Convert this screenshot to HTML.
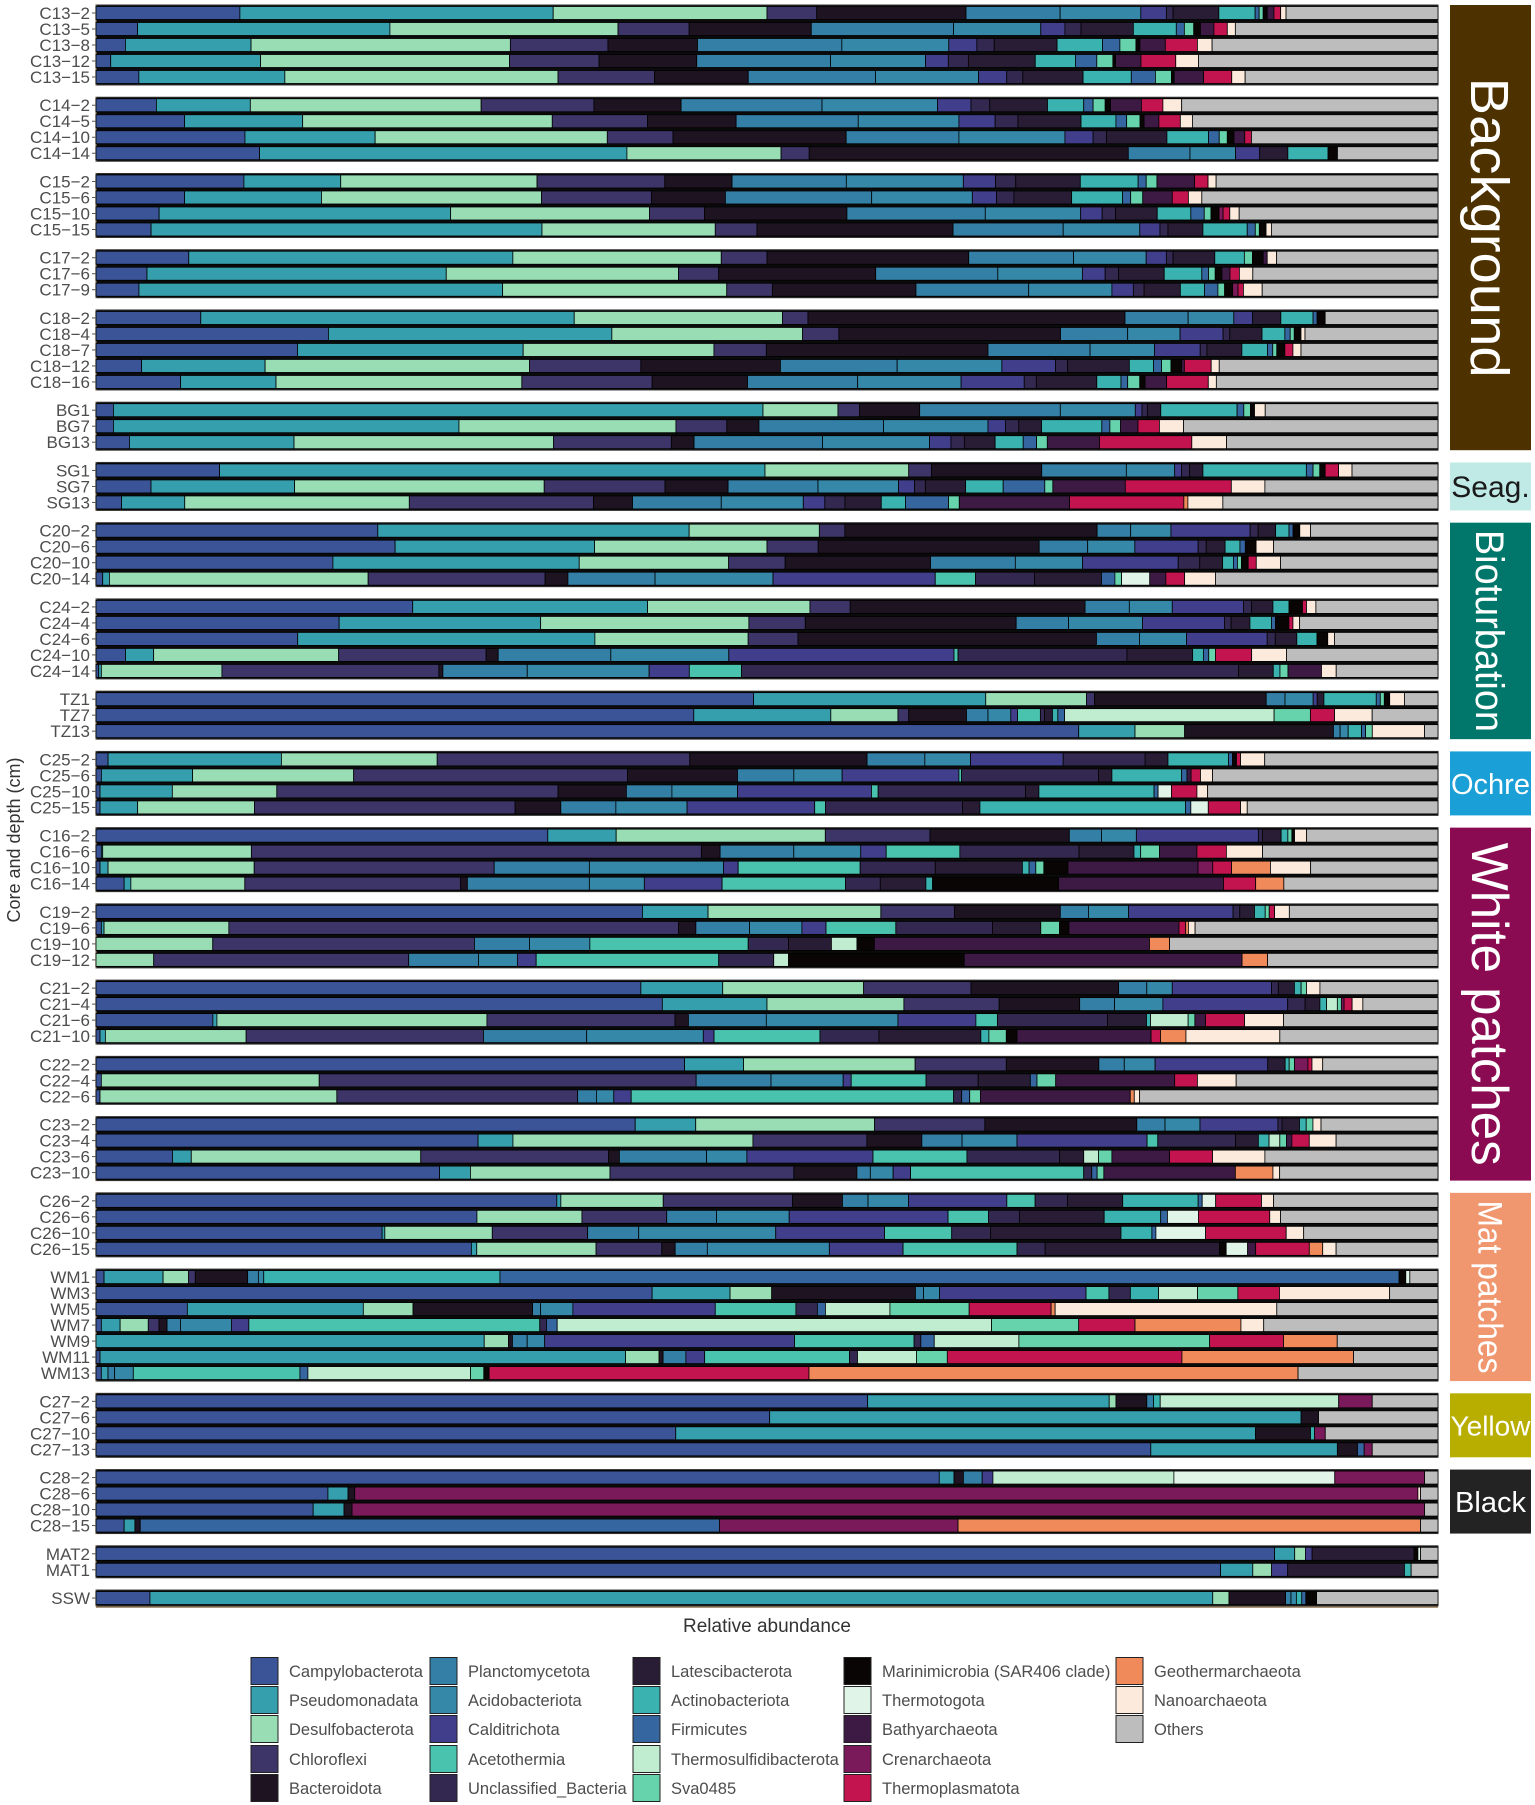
<!DOCTYPE html>
<html><head><meta charset="utf-8"><style>
html,body{margin:0;padding:0;background:#fff;}
svg{display:block;font-family:"Liberation Sans",sans-serif;}
</style></head><body>
<svg id="chart" width="1535" height="1805" viewBox="0 0 1535 1805" xmlns="http://www.w3.org/2000/svg"></svg>
<script>
const taxa=["Campylobacterota","Pseudomonadata","Desulfobacterota","Chloroflexi","Bacteroidota","Planctomycetota","Acidobacteriota","Calditrichota","Acetothermia","Unclassified_Bacteria","Latescibacterota","Actinobacteriota","Firmicutes","Thermosulfidibacterota","Sva0485","Marinimicrobia (SAR406 clade)","Thermotogota","Bathyarchaeota","Crenarchaeota","Thermoplasmatota","Geothermarchaeota","Nanoarchaeota","Others"];
const colors=["#3b5498","#359fae","#98ddb4","#3d3468","#1e1320","#347fa5","#3588a8","#413f8c","#49c2ae","#33284f","#291d35","#3ab2b0","#3566a0","#c0ecd0","#66d3ac","#0a0505","#e0f5e8","#3d1a44","#7a1a5a","#c4144f","#f08a5a","#fcebdc","#bdbdbd"];
const samples=["C13−2","C13−5","C13−8","C13−12","C13−15","C14−2","C14−5","C14−10","C14−14","C15−2","C15−6","C15−10","C15−15","C17−2","C17−6","C17−9","C18−2","C18−4","C18−7","C18−12","C18−16","BG1","BG7","BG13","SG1","SG7","SG13","C20−2","C20−6","C20−10","C20−14","C24−2","C24−4","C24−6","C24−10","C24−14","TZ1","TZ7","TZ13","C25−2","C25−6","C25−10","C25−15","C16−2","C16−6","C16−10","C16−14","C19−2","C19−6","C19−10","C19−12","C21−2","C21−4","C21−6","C21−10","C22−2","C22−4","C22−6","C23−2","C23−4","C23−6","C23−10","C26−2","C26−6","C26−10","C26−15","WM1","WM3","WM5","WM7","WM9","WM11","WM13","C27−2","C27−6","C27−10","C27−13","C28−2","C28−6","C28−10","C28−15","MAT2","MAT1","SSW"];
const panelSizes=[5,4,4,3,5,3,3,4,5,3,4,4,4,4,3,4,4,7,4,4,2,1];
const values=[
[10.7,23.3,15.9,3.7,11.1,7.0,6.0,1.9,0,0.5,3.4,2.7,0.3,0,0.3,0.3,0,0.5,0,0.5,0,0.4,11.3],
[3.1,18.8,17.0,5.3,9.1,10.6,6.5,1.8,0,1.2,3.9,3.2,0.6,0,0.7,0.5,0,1.0,0,1.0,0,0.6,15.1],
[2.2,9.4,19.4,7.3,6.7,10.8,8.0,2.1,0,1.3,4.7,3.4,1.3,0,1.2,0.3,0,1.9,0,2.4,0,1.1,16.9],
[1.1,11.2,18.6,6.7,7.3,10.0,7.1,1.7,0,1.5,5.0,3.0,1.6,0,1.2,0.2,0,1.9,0,2.6,0,1.7,17.9],
[3.2,10.9,20.4,7.2,7.0,9.5,7.7,2.1,0,1.2,4.5,3.6,1.8,0,1.2,0.2,0,2.2,0,2.1,0,1.0,14.4],
[4.5,7.0,17.2,8.4,6.5,10.5,8.6,2.5,0,1.4,4.3,2.7,0.7,0,0.9,0.4,0,2.3,0,1.6,0,1.4,19.1],
[6.6,8.8,18.6,7.1,6.6,9.1,7.5,2.7,0,1.7,4.7,2.6,0.8,0,1.0,0.3,0,1.1,0,1.6,0,0.9,18.3],
[11.1,9.7,17.3,4.9,12.9,8.4,7.9,2.1,0,1.0,4.5,3.1,0.8,0,0.6,0.5,0,0.8,0,0.5,0,0,13.9],
[12.2,27.4,11.5,2.1,23.8,4.6,3.4,1.8,0,0,2.1,3.0,0,0,0,0.7,0,0,0,0,0,0,7.5],
[11.0,7.2,14.6,9.5,5.0,8.5,8.7,2.4,0,1.5,4.8,4.3,0.6,0,0.8,0,0,2.8,0,1.0,0,0.6,16.5],
[6.6,10.2,16.4,8.2,5.5,10.9,7.5,1.8,0,1.3,4.3,3.8,0.6,0,0.9,0,0,2.2,0,1.2,0,1.0,17.6],
[4.7,21.7,14.8,4.1,10.6,10.3,7.1,1.6,0,1.0,3.1,2.5,1.0,0,0.5,0.6,0,0,0.3,0.5,0,0.7,14.8],
[4.1,29.1,12.9,3.1,14.6,8.2,5.7,1.5,0,0.6,2.6,3.3,0.6,0,0.3,0.5,0,0,0,0,0,0.4,12.4],
[6.9,24.1,15.5,3.4,15.0,7.8,5.4,1.5,0,0.5,3.1,2.2,0,0,0.6,0.8,0,0.3,0,0,0,0.7,12.0],
[3.8,22.3,17.3,3.0,11.7,9.1,6.3,1.7,0,1.0,3.4,2.8,0.5,0,0.5,0.5,0,0.6,0,0.7,0,1.0,13.8],
[3.2,27.1,16.7,3.4,10.7,8.4,6.2,1.6,0,0.8,2.7,1.8,1.0,0,0.5,0.6,0,0,0.4,0.4,0,1.4,13.1],
[7.8,27.8,15.5,1.9,23.6,4.7,3.4,1.4,0,0,2.1,2.4,0.3,0,0,0.6,0,0,0,0,0,0,8.4],
[17.3,21.1,14.2,2.7,16.5,5.0,3.9,3.2,0,0.5,2.4,1.7,0.4,0,0.3,0.5,0,0,0,0,0,0.3,9.9],
[15.0,16.8,14.2,3.9,16.5,7.6,4.8,3.4,0,0.5,2.6,1.9,0.4,0,0.3,0.6,0,0,0,0.6,0,0.6,10.2],
[3.4,9.2,19.7,8.3,10.4,8.7,7.8,4.0,0,0.9,4.6,1.8,0.6,0,0.7,0.8,0,0.2,0,2.0,0,0.6,16.3],
[6.3,7.1,18.3,9.7,7.1,8.2,7.7,4.7,0,0.9,4.5,1.8,0.5,0,0.9,0.4,0,1.6,0,3.1,0,0.6,16.5],
[1.3,48.5,5.6,1.6,4.5,10.5,5.6,0.5,0,0.4,1.0,5.7,0.5,0,0.5,0.3,0,0,0,0,0,0.8,12.9],
[1.3,25.8,16.2,3.8,2.4,9.3,7.8,1.3,0,1.0,1.7,4.5,0.6,0,0.8,0,0,1.3,0,1.6,0,1.8,19.0],
[2.5,12.3,19.4,8.8,1.7,9.6,8.0,1.6,0,1.0,2.3,2.1,1.0,0,0.8,0,0,3.9,0,6.9,0,2.6,15.8],
[9.2,40.6,10.7,1.7,8.2,6.3,3.6,0.5,0,0.6,1.0,7.7,0.5,0,0.5,0.4,0,0,0,1.0,0,1.0,6.4],
[4.1,10.7,18.6,9.0,4.7,6.7,6.0,1.2,0,0.8,3.0,2.8,3.1,0,0.6,0,0,5.4,0,7.9,0,2.5,12.9],
[1.9,4.7,16.7,13.7,2.9,6.6,6.1,1.6,0,1.5,2.7,1.8,3.2,0,0.8,0,0,8.2,0,8.5,0.3,2.6,16.0],
[21.0,23.2,9.7,1.9,18.8,2.5,3.0,5.9,0,0.6,1.3,1.0,0.3,0,0,0.5,0,0,0,0,0,0.8,9.5],
[22.2,14.8,12.8,3.8,16.4,3.6,3.5,4.7,0,0.6,1.4,1.1,0.4,0,0,0.8,0,0,0,0,0,1.3,12.2],
[17.6,18.3,11.1,4.2,10.8,6.3,5.0,7.1,0,1.6,1.7,0.8,0.3,0,0.3,0.5,0,0,0,0.6,0,1.8,11.7],
[0.5,0.5,19.3,13.2,1.7,6.5,8.8,12.1,3.0,4.4,5.0,0,1.0,0,0.5,0,2.1,1.2,0,1.4,0,2.3,16.6],
[23.6,17.5,12.1,3.0,17.5,3.3,3.2,5.3,0,0.6,1.6,1.2,0,0,0,1.0,0,0,0,0.3,0,0.7,9.1],
[18.1,15.0,15.5,4.2,15.7,3.9,5.5,6.1,0,0.5,1.4,1.6,0.3,0,0,1.0,0,0,0,0.3,0,0.5,10.3],
[15.0,22.1,11.4,3.7,22.2,3.2,3.5,6.0,0,0.6,1.6,1.5,0,0,0,0.8,0,0,0,0,0,0.5,7.7],
[2.2,2.1,13.8,11.0,0.9,8.4,8.8,16.8,0.3,12.6,4.9,0.8,0.4,0,0.5,0,0,0,0,2.7,0,2.6,11.3],
[0.2,0.2,9.0,16.2,0.3,6.3,9.1,3.0,3.9,37.1,2.6,0.5,0,0,0.6,0,0,2.5,0,0,0,1.1,7.6],
[49.0,17.3,7.5,0.6,12.8,1.4,2.1,0.3,0,0,0.5,3.9,0.3,0,0.3,0.4,0,0,0,0,0,1.1,2.5],
[44.5,10.2,5.0,0.8,4.3,1.6,1.7,0.5,1.7,0.3,0.6,0.4,0.5,15.6,2.7,0,0,0,0,1.8,0,2.8,4.9],
[73.3,4.2,3.7,0,11.1,0.5,0.6,0,0,0,0,1.0,0.3,0,0.5,0,0,0,0,0,0,3.9,1.0],
[0.9,12.9,11.6,18.8,13.2,4.3,3.4,6.9,0,6.1,1.7,4.5,0.3,0,0,0.3,0,0,0,0.3,0,1.8,12.9],
[0.4,6.8,12.0,20.4,8.2,4.2,3.6,8.7,0.2,10.2,1.0,5.2,0.4,0,0,0,0,0.3,0,0.7,0,0.9,16.8],
[0.3,5.4,7.8,21.0,5.1,3.4,4.9,10.0,0.5,11.0,1.0,8.6,0.3,0,0,0,1.0,0,0,1.9,0,0.8,17.2],
[0.3,2.8,8.7,19.4,3.4,4.1,5.3,9.5,0.8,10.2,1.3,15.3,0.4,0,0,0,1.3,0,0,2.4,0,0.5,14.2],
[33.7,5.1,15.6,7.8,10.4,2.4,2.6,9.1,0,0.3,1.4,0.5,0,0,0.3,0.2,0,0,0,0,0,0.9,9.8],
[0.4,0.1,11.1,33.6,1.4,5.5,5.0,1.9,5.5,8.9,4.1,0.5,0,0,1.4,0,0,2.8,0,2.2,0,2.7,13.1],
[0.3,0.6,10.9,17.9,0,7.1,10.0,1.1,9.1,5.6,6.5,0.5,0.5,0,0.6,1.8,0,9.7,1.1,1.4,2.9,3.0,9.5],
[2.1,0.5,8.5,16.1,0.5,9.1,4.1,5.8,9.2,2.6,3.4,0.5,0,0,0,9.4,0,12.3,0,2.4,2.1,0,11.5],
[40.8,4.9,12.9,5.5,7.9,2.1,3.0,7.8,0,0.5,1.1,0.8,0,0,0.3,0,0,0,0,0.4,0,1.1,11.1],
[0.4,0.2,9.3,33.5,1.3,4.0,3.9,1.8,5.2,7.2,3.6,0,0,0,1.4,0.7,0,8.2,0,0.5,0.2,0.5,18.1],
[0,0,8.7,19.5,0,4.1,4.5,0,11.8,3.0,3.2,0,0,1.9,0,1.3,0,20.5,0,0,1.5,0,20.0],
[0,0,4.3,19.0,0,5.2,2.9,1.4,13.6,4.1,0,0,0,1.1,0,13.1,0,20.7,0,0,1.9,0,12.7],
[40.6,6.1,10.5,8.0,11.0,2.1,1.9,7.4,0,0.5,1.2,0.5,0,0,0.4,0,0,0,0,0,0,1.0,8.8],
[42.2,7.8,10.2,7.1,6.0,2.6,3.6,9.3,0,1.3,1.1,0.5,0,0.8,0.3,0,0,0,0.2,0.6,0,0.8,5.6],
[8.7,0.3,20.1,14.0,1.0,5.8,9.8,5.8,1.6,8.2,2.9,0.3,0,2.8,0.5,0,0,0.8,0,2.9,0,2.9,11.5],
[0.3,0.4,10.5,17.7,0,7.7,8.7,0.8,7.9,4.4,7.6,0.6,0,0,1.3,0.8,0,10.0,0,0.7,1.9,7.0,11.8],
[43.9,4.4,12.8,6.8,6.9,1.9,2.3,8.4,0,0,1.3,0.3,0,0,0.4,0,0,0,1.0,0.3,0,0.8,8.6],
[0.4,0,16.3,28.2,0,5.6,5.4,0.6,5.6,3.9,3.9,0,0.5,0,1.4,0,0,8.9,0,1.7,0,2.9,15.1],
[0.3,0,17.7,18.0,0,1.4,1.3,1.3,24.1,0.6,0,0,0.6,0,0.8,0,0,11.2,0,0,0.3,0.4,22.3],
[40.1,4.5,13.3,8.2,11.3,2.1,2.6,5.8,0,0.3,1.3,0.5,0,0,0.5,0,0,0,0,0,0,0.6,8.7],
[28.5,2.6,17.9,8.5,4.1,3.0,4.1,9.7,0.8,5.8,1.7,0.8,0,0.8,0.5,0,0,0.4,0,1.3,0,2.0,7.6],
[5.7,1.4,17.1,14.0,0.8,6.5,3.0,9.4,7.0,6.9,1.8,0,0,1.1,1.0,0,0,4.3,0,3.2,0,3.9,12.9],
[25.6,2.3,10.4,13.7,4.7,1.0,1.7,1.3,12.9,0.6,0,0,0.4,0,0.5,0,0,9.8,0,0,2.8,0.5,11.8],
[34.2,0.3,7.6,9.6,3.7,1.9,3.0,7.3,2.1,2.4,4.1,5.6,0.3,0,0,0,1.0,0,0,3.4,0,0.9,12.2],
[28.3,0,7.8,6.3,0,3.7,5.4,11.8,3.0,2.3,6.3,4.2,0.5,0,0,0,2.3,0,0,5.3,0,0.8,11.7],
[21.3,0.2,8.0,7.1,0,3.8,10.2,8.1,5.0,2.9,9.7,2.3,0.3,0,0,0,3.7,0,0,6.0,0,1.3,10.0],
[28.0,0.4,8.9,4.9,1.0,2.4,9.1,5.5,8.5,2.1,13.0,0,0,0,0,0.5,1.6,0.6,0,4.0,1.0,1.0,7.6],
[0.6,4.4,1.9,0.5,3.9,0.8,0.4,0,0,0,0,17.6,67.0,0,0,0.5,0.3,0,0,0,0,0,2.1],
[41.4,5.8,3.1,0,10.7,0.6,1.2,10.9,1.7,1.6,0,2.1,0,2.9,3.0,0,0,0,0,3.1,0,8.2,3.6],
[6.8,13.1,3.7,0,8.9,0.6,2.4,10.6,6.0,1.6,0,0,0.6,4.8,5.9,0,0,0,0,6.1,0.3,16.5,12.0],
[0.4,1.4,2.1,0.8,0.6,1.0,3.8,1.3,21.7,0.5,0,0,0.8,32.4,6.5,0,0,0,0,4.2,7.9,1.7,13.0],
[0,28.9,1.8,0,0.3,1.1,1.3,18.6,8.9,0.5,0,0,1.0,6.3,14.2,0,0,0,0,5.5,4.0,0,7.5],
[0.3,39.2,2.5,0,0.3,1.7,0,1.4,10.8,0.6,0,0,0,4.4,2.3,0,0,0,0,17.5,12.8,0,6.3],
[0.4,0.5,0,0,0,0.5,1.4,0,12.5,0,0,0,0.6,12.2,1.0,0.4,0,0,0,24.0,36.7,0,10.5],
[57.5,18.0,0.5,0,2.3,0.5,0,0,0,0,0,0.5,0,13.3,0,0,0,0,2.5,0,0,0,4.9],
[50.2,39.6,0,0,1.3,0,0,0,0,0,0,0,0,0,0,0,0,0,0,0,0,0,8.9],
[43.2,43.2,0,0,4.1,0,0,0,0,0,0,0.3,0,0,0,0,0,0,0.8,0,0,0,8.4],
[78.6,13.9,0,0,1.5,0,0,0,0,0,0,0,0.5,0,0,0,0,0,0.6,0,0,0,4.9],
[62.9,1.1,0,0,0.7,1.4,0,0.8,0,0,0,0,0,13.5,0,0,12.0,0,6.7,0,0,0,1.0],
[17.3,1.5,0,0,0.5,0,0,0,0,0,0,0,0,0,0,0,0,0,79.3,0,0,0.2,1.3],
[16.2,2.3,0,0,0.6,0,0,0,0,0,0,0,0,0,0,0,0,0,80.0,0,0,0,1.0],
[2.1,0.8,0,0,0.4,0,0,0,0,0,0,0,43.2,0,0,0,0,0,17.8,0,34.5,0,1.3],
[88.0,1.5,0.8,0,0,0,0,0.5,0,0,7.6,0,0,0,0,0.3,0.2,0,0,0,0,0,1.3],
[83.8,2.4,1.4,0,0,0,0,1.2,0,0,8.7,0.5,0,0,0,0,0,0,0,0,0,0,2.0],
[4.0,78.8,1.2,0,4.2,0.4,0.4,0,0,0,0,0.4,0.3,0,0,0.8,0,0,0,0,0,0,9.0]
];
const stripLabels=["Background","Seag.","Bioturbation","Ochre","White patches","Mat patches","Yellow","Black"];
const stripFrom=[0,6,7,10,11,16,18,19];
const stripTo=[5,6,9,10,15,17,18,19];

const NS="http://www.w3.org/2000/svg";
const svg=document.getElementById('chart');
function mk(tag,attrs,parent){const e=document.createElementNS(NS,tag);for(const k in attrs)e.setAttribute(k,attrs[k]);(parent||svg).appendChild(e);return e;}
const X0=96,X1=1438,ROW=16,GAP=12.24,TOP=5;
function xScale(p){return X0+p/100*(X1-X0);}
const stripColors=["#4d3200","#bfeae5","#00776a","#1a9fd6","#8a0b51","#f0976f","#b8ae00","#232323"];
const stripText=["#ffffff","#1a1a1a","#ffffff","#ffffff","#ffffff","#ffffff","#ffffff","#ffffff"];
const stripRot=[true,false,true,false,true,true,false,false];
const stripLen=[300,0,202,0,323,173,0,0];
const stripSize=[54,30,40,29,52,34,28,29];

// panels
const panelTop=[],panelBot=[];
let y=TOP,si=0;
panelSizes.forEach((n,pi)=>{
  const g=mk('g',{});
  
  
  const pr=mk('rect',{x:X0,y:y,width:X1-X0,height:n*ROW,fill:'#0b0b0b',stroke:'#333','stroke-width':1},g);
  
  
  const al=mk('line',{x1:X0,y1:y,x2:X0,y2:y+n*ROW,stroke:'#8b7355','stroke-width':1.2},g);
  
  
  panelTop.push(y);panelBot.push(y+n*ROW);
  for(let r=0;r<n;r++,si++){
    const vals=values[si];const tot=vals.reduce((a,b)=>a+b,0);
    const by=y+r*ROW+1.5,bh=ROW-3;
    let cum=0;
    const bg=mk('g',{},g);
    
    
    vals.forEach((v,k)=>{
      if(v<=0)return;
      const x=xScale(cum/tot*100),w=xScale((cum+v)/tot*100)-x;cum+=v;
      const s=mk('rect',{x:x,y:by,width:w,height:bh,fill:colors[k],stroke:'#000','stroke-width':0.8},bg);
      
      
    });
    const cy=y+r*ROW+ROW/2;
    const tk=mk('line',{x1:X0-4,y1:cy,x2:X0,y2:cy,stroke:'#555','stroke-width':1},g);
    
    
    const t=mk('text',{x:X0-6,y:cy+6,'text-anchor':'end','font-size':17,fill:'#4d4d4d'},g);
    t.textContent=samples[si];
    
    
  }
  y+=n*ROW+GAP;
});
// strips
stripLabels.forEach((lab,i)=>{
  const y0=panelTop[stripFrom[i]],y1=panelBot[stripTo[i]];
  const g=mk('g',{});
  
  
  mk('rect',{x:1450,y:y0,width:81,height:y1-y0,fill:stripColors[i]},g);
  const cx=1490.5,cy=(y0+y1)/2;
  let t;
  if(stripRot[i]){
    t=mk('text',{x:0,y:0,transform:`translate(${cx-stripSize[i]*0.36},${cy}) rotate(90)`,'text-anchor':'middle','font-size':stripSize[i],fill:stripText[i],textLength:stripLen[i],lengthAdjust:'spacingAndGlyphs'},g);
  }else{
    t=mk('text',{x:cx,y:cy+stripSize[i]*0.36,'text-anchor':'middle','font-size':stripSize[i],fill:stripText[i]},g);
  }
  t.textContent=lab;
  
  
});
// x axis
const xa=mk('line',{x1:X0,y1:1607,x2:X1,y2:1607,stroke:'#8b7355','stroke-width':1.5});


const xt=mk('text',{x:(X0+X1)/2,y:1632,'text-anchor':'middle','font-size':19,fill:'#333'});
xt.textContent='Relative abundance';


const yt=mk('text',{x:0,y:0,transform:'translate(20,840) rotate(-90)','text-anchor':'middle','font-size':18,fill:'#333'});
yt.textContent='Core and depth (cm)';


// legend
const colX=[251,430,633,844,1116];
const rowY=[1671,1700,1729,1759,1788];
const lg=mk('g',{});


taxa.forEach((name,k)=>{
  const c=Math.floor(k/5),r=k%5;
  const e=mk('g',{},lg);
  
  
  mk('rect',{x:colX[c],y:rowY[r]-13.5,width:27,height:27,fill:colors[k],stroke:'#222','stroke-width':1},e);
  const t=mk('text',{x:colX[c]+38,y:rowY[r]+6,'font-size':16.5,fill:'#4d4d4d'},e);
  t.textContent=name;
});
</script>
</body></html>
